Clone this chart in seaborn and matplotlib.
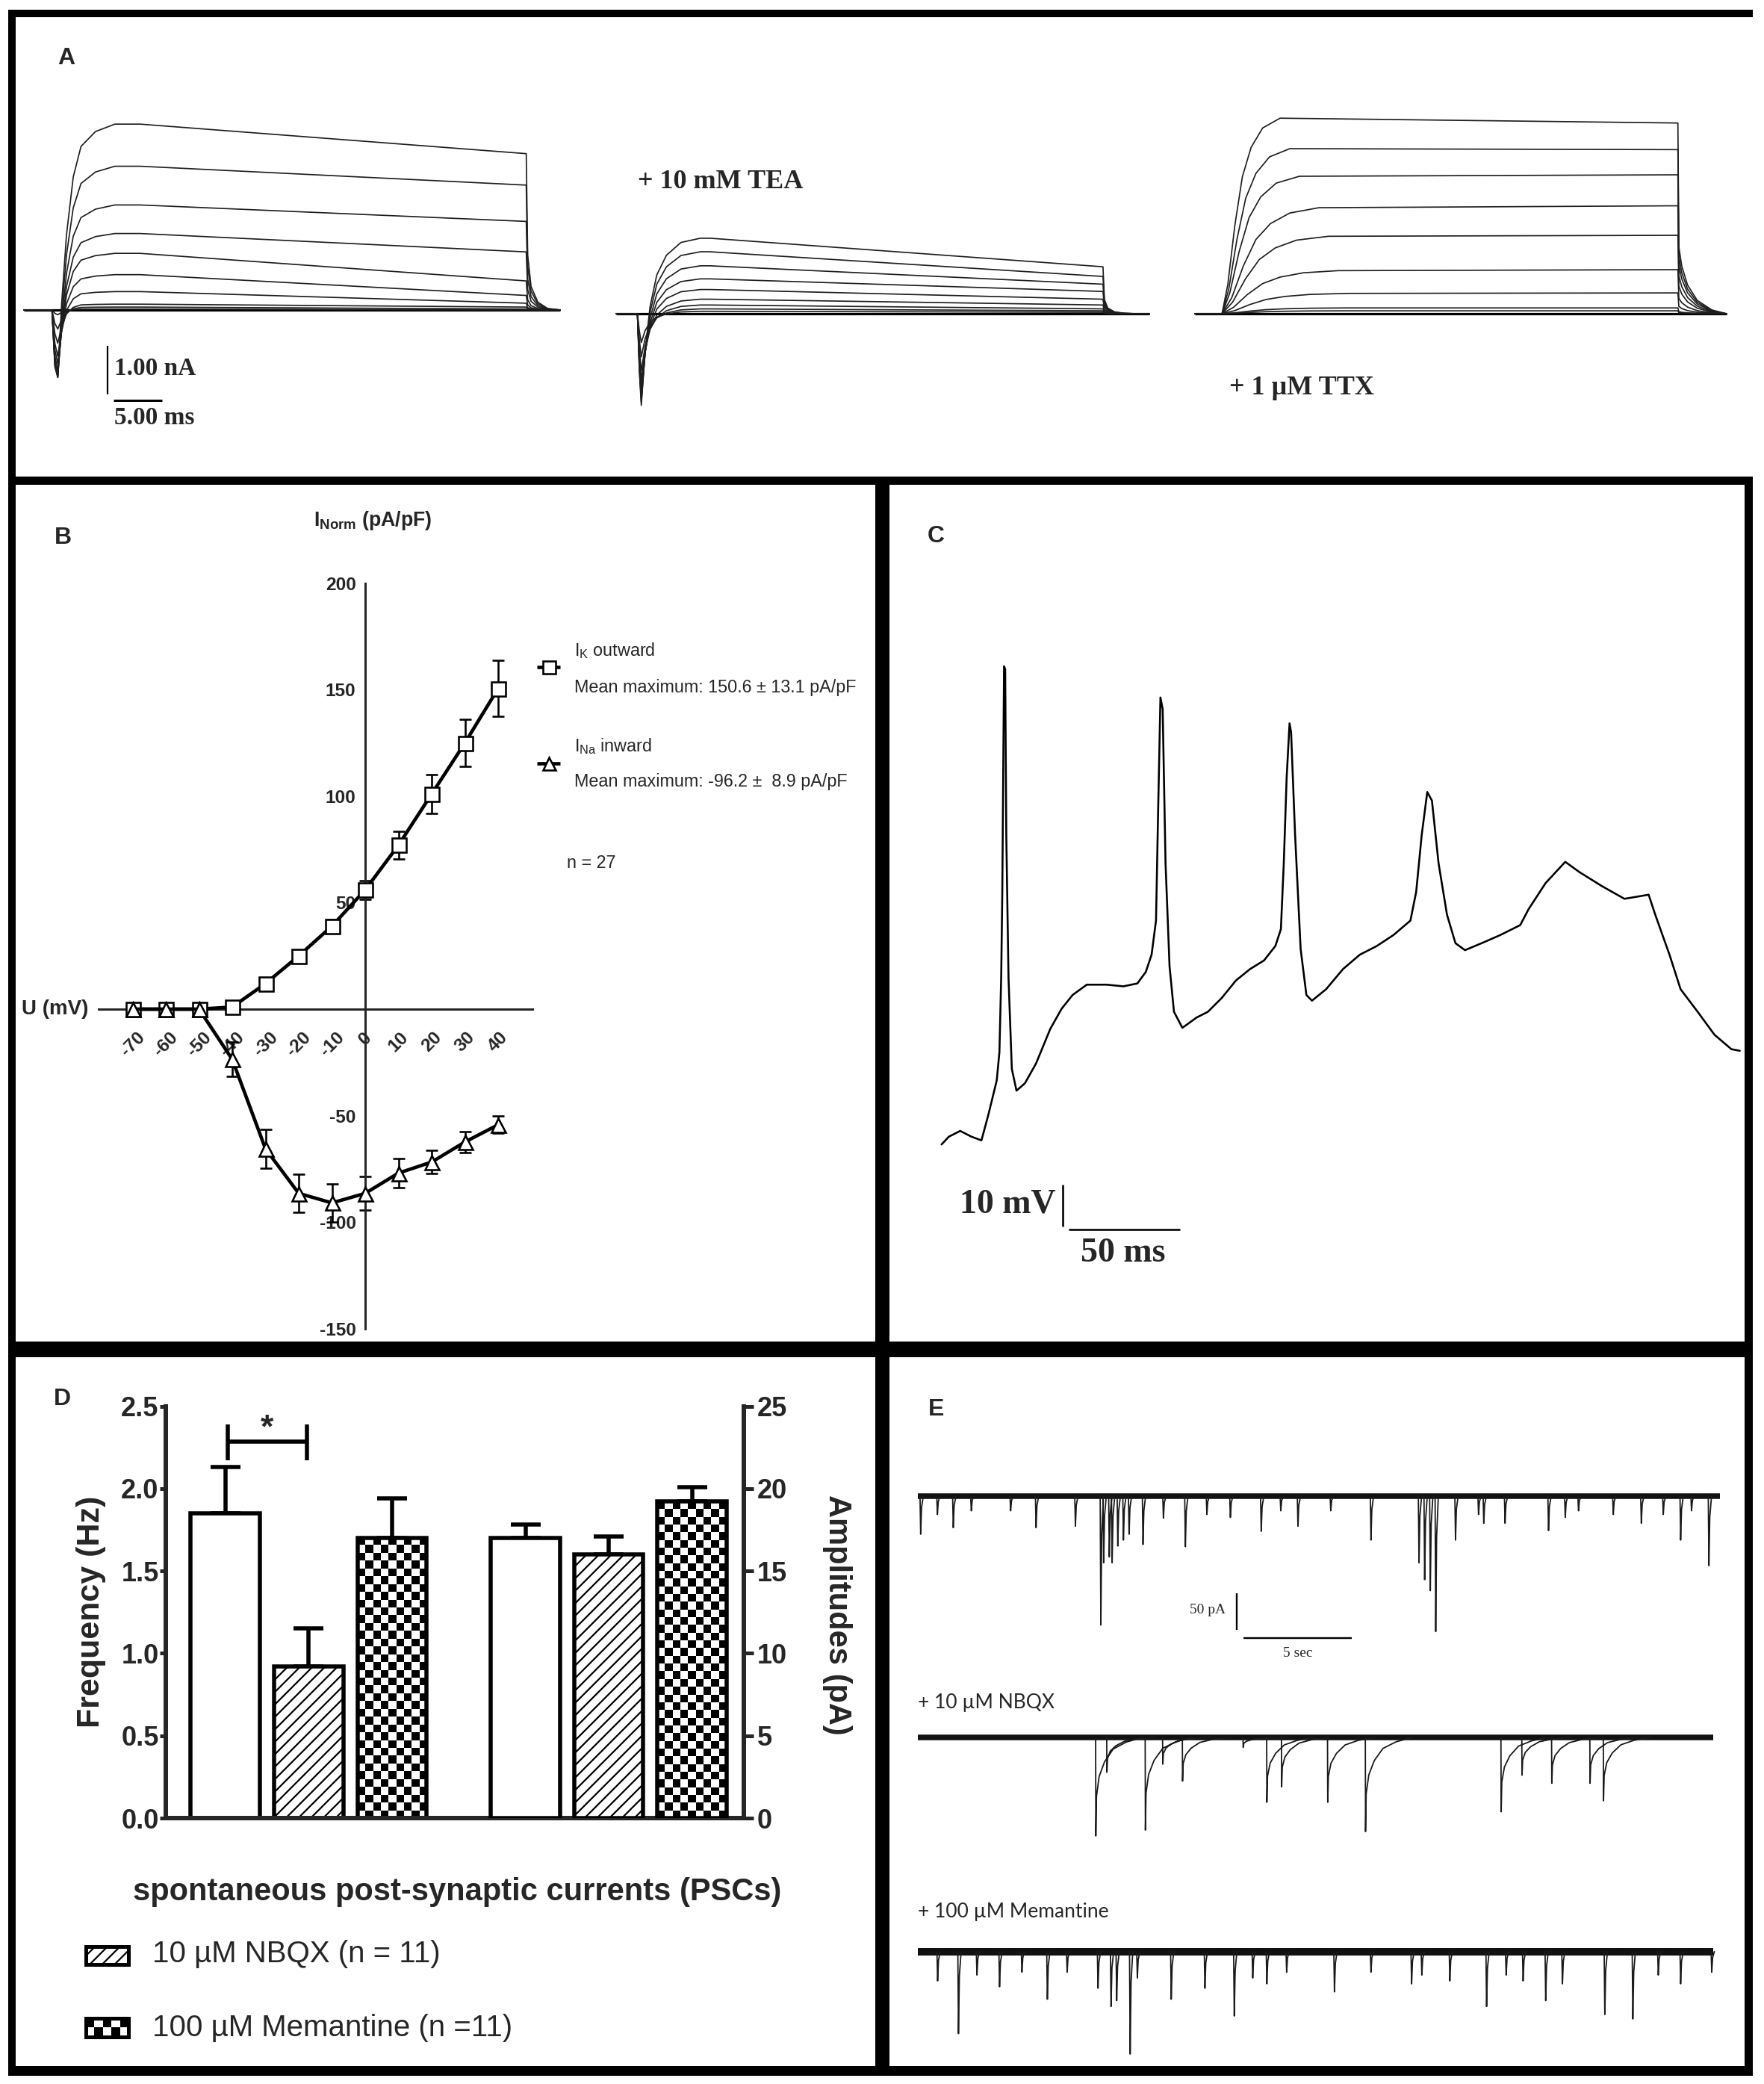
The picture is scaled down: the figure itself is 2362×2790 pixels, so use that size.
import numpy as np
import pandas as pd
import matplotlib
matplotlib.use("Agg")
import matplotlib.pyplot as plt
import seaborn as sns
from matplotlib import font_manager as fm
from matplotlib.patches import Rectangle

# ============================ DATA ============================
# ---- Panel A : voltage-clamp current families (nA); times in ms
A_ctrl_timing = [2.9, 12.0, 51.9, 55.4]          # onset, peak, pulse end, sweep end
A_ctrl_peak = [3.84, 2.97, 2.17, 1.58, 1.17, 0.73, 0.38, 0.12, 0.06, 0.02]
A_ctrl_end = [3.23, 2.58, 1.83, 1.20, 0.60, 0.30, 0.14, 0.06, 0.02, 0.00]
A_ctrl_dip = [-1.85, -1.75, -1.65, -1.55, -1.40, -1.20, -1.00, -0.70, -0.40, -0.10]
A_ctrl_s = [0, 0.3, 0.6, 1.0, 1.5, 2.2, 3.0, 4.5, 6.5]
A_ctrl_kf = [0, 0.03, 0.12, 0.30, 0.50, 0.74, 0.88, 0.96, 1.0]
A_ctrl_nf = [0, 0.70, 1.0, 0.55, 0.20, 0.05, 0, 0, 0]
A_ctrl_tail_s = [0, 0.15, 0.5, 1.2, 2.2, 3.5]
A_ctrl_tail_f = [1, 0.35, 0.15, 0.05, 0.01, 0]

A_tea_timing = [2.2, 9.7, 50.3, 55.1]
A_tea_peak = [1.56, 1.28, 0.99, 0.72, 0.50, 0.30, 0.18, 0.10, 0.05]
A_tea_end = [0.97, 0.77, 0.61, 0.46, 0.30, 0.18, 0.10, 0.06, 0.03]
A_tea_dip = [-2.05, -1.95, -1.85, -1.70, -1.55, -1.40, -1.20, -0.90, -0.60]
A_tea_s = [0, 0.2, 0.4, 0.8, 1.3, 2.0, 3.0, 4.5, 6.5]
A_tea_kf = [0, 0.03, 0.10, 0.30, 0.55, 0.75, 0.88, 0.97, 1.0]
A_tea_nf = [0, 0.60, 1.0, 0.60, 0.35, 0.18, 0.08, 0.02, 0]
A_tea_tail_s = [0, 0.15, 0.5, 1.2, 2.2, 3.5]
A_tea_tail_f = [1, 0.30, 0.12, 0.04, 0.01, 0]

A_ttx_timing = [2.8, 0.0, 49.9, 54.9]
A_ttx_peak = [4.04, 3.41, 2.84, 2.19, 1.60, 0.89, 0.42, 0.12, 0.06]
A_ttx_end = [3.94, 3.39, 2.87, 2.23, 1.62, 0.91, 0.43, 0.12, 0.06]
A_ttx_rise = [6, 7, 8, 10, 11, 12, 13, 13, 13]
A_ttx_u = [0, 0.10, 0.22, 0.35, 0.50, 0.70, 1.0]
A_ttx_kf = [0, 0.15, 0.45, 0.70, 0.85, 0.95, 1.0]
A_ttx_nf = [0, 0, 0, 0, 0, 0, 0]
A_ttx_tail_s = [0, 0.1, 0.4, 1.0, 2.0, 3.5, 5.0]
A_ttx_tail_f = [1, 0.35, 0.25, 0.15, 0.07, 0.02, 0]

# ---- Panel B : I-V relation
B_voltage = [-70, -60, -50, -40, -30, -20, -10, 0, 10, 20, 30, 40]
B_IK = [0, 0, 0, 1, 12, 25, 39, 56, 77, 101, 125, 150.6]
B_IK_sem = [0, 0, 0, 1, 2, 2.5, 3, 4.4, 6.5, 9, 11, 13.1]
B_INa = [0, 0, 0, -23.6, -65.6, -86.5, -91, -86.5, -77, -71.8, -62.4, -54.3]
B_INa_sem = [0, 0, 0, 8, 9, 9, 9, 8, 7, 5.5, 5, 4]
B_yticks = [-150, -100, -50, 50, 100, 150, 200]

# ---- Panel C : action potential train
C_time_ms = [0, 3.3, 8.4, 13.5, 18.0, 21.1, 24.9, 26.1, 26.9, 27.4, 27.9, 28.2, 28.7,
             29.2, 30.2, 31.7, 33.8, 37.6, 42.6, 49.0, 54.1, 59.1, 65.5, 74.4, 82.0,
             88.3, 92.1, 94.7, 96.7, 97.7, 98.7, 99.7, 101.0, 102.8, 104.8, 108.6,
             115.0, 120.1, 126.4, 132.7, 139.1, 145.4, 150.5, 153.0, 154.3, 155.6,
             156.9, 157.6, 159.4, 161.9, 164.5, 167.0, 173.4, 181.0, 188.6, 196.2,
             203.8, 211.4, 214.0, 216.5, 219.0, 221.1, 224.1, 227.9, 231.7, 236.0,
             244.4, 252.0, 260.9, 264.7, 272.3, 281.2, 287.6, 297.7, 307.9, 318.8,
             321.8, 328.2, 333.2, 340.9, 348.5, 356.1, 359.9]
C_voltage_mV = [-65, -63.1, -61.7, -63.1, -64.0, -57.8, -49.4, -42.5, -24.4, -3.5, 31.2,
                51.4, 50.7, 10.4, -24.4, -46.6, -51.9, -50.1, -45.3, -36.9, -32.0,
                -28.6, -26.1, -26.1, -26.5, -25.8, -23.0, -18.8, -10.5, 17.3, 43.8,
                41.0, 3.4, -21.6, -32.7, -36.6, -34.1, -32.7, -29.3, -25.1, -22.3,
                -20.2, -16.7, -12.6, 3.4, 24.3, 37.5, 35.4, 10.4, -17.4, -28.6, -30.0,
                -27.2, -22.3, -18.8, -16.7, -14.0, -10.5, -3.5, 10.4, 20.8, 18.7, 3.4,
                -9.1, -16.0, -17.7, -15.8, -14.0, -11.6, -7.7, -1.4, 3.8, 1.3, -2.1,
                -5.2, -4.2, -9.1, -18.8, -27.2, -32.7, -38.3, -41.8, -42.2]

# ---- Panel D : PSC frequency / amplitude
D_conditions = ["Control", "10 µM NBQX", "100 µM Memantine"]
D_freq = [1.85, 0.92, 1.70]
D_freq_sem = [0.28, 0.23, 0.24]
D_amp = [17.0, 16.0, 19.2]
D_amp_sem = [0.8, 1.1, 0.9]
D_freq_ticks = [0.0, 0.5, 1.0, 1.5, 2.0, 2.5]
D_amp_ticks = [0, 5, 10, 15, 20, 25]

# ---- Panel E : spontaneous PSC recordings (events: time s, amplitude pA)
E_sweep_s = [36.9, 36.6, 36.6]
E_ctrl_t = [0.13, 0.9, 1.63, 2.46, 4.27, 5.44, 7.25, 8.42, 8.55, 8.81, 8.94, 9.20, 9.46,
            9.72, 10.36, 11.3, 12.31, 13.3, 14.38, 15.80, 16.7, 17.49, 19.0, 20.85,
            23.06, 23.32, 23.58, 23.83, 24.74, 25.8, 26.04, 27.02, 29.02, 29.79, 30.4,
            32.0, 33.29, 34.3, 35.10, 35.6, 36.40]
E_ctrl_amp = [52, 25, 43, 20, 20, 43, 41, 176, 91, 83, 91, 68, 60, 52, 66, 30, 69, 25,
              29, 48, 20, 41, 20, 60, 91, 114, 129, 185, 60, 25, 37, 37, 47, 29, 20, 25,
              37, 25, 60, 20, 95]
E_nbqx_t = [8.19, 8.70, 10.47, 11.27, 12.18, 14.97, 16.06, 16.74, 18.86, 20.60, 26.84,
            27.80, 29.17, 30.93, 31.55]
E_nbqx_amp = [135, 48, 127, 37, 60, 14, 89, 68, 89, 129, 102, 52, 63, 63, 87]
E_mem_t = [0.91, 1.87, 2.72, 3.76, 4.79, 5.96, 6.87, 8.29, 8.89, 9.15, 9.77, 10.10, 11.66,
           13.21, 14.56, 15.41, 16.06, 16.97, 19.17, 20.85, 22.72, 23.19, 24.48, 26.17,
           27.07, 27.85, 28.89, 29.66, 31.61, 32.90, 34.07, 35.10, 36.53]
E_mem_amp = [40, 112, 32, 48, 28, 65, 28, 50, 75, 67, 140, 36, 65, 50, 88, 36, 44, 28,
             55, 28, 44, 32, 40, 75, 32, 40, 67, 44, 86, 92, 32, 44, 28]
E_fast_s = [-0.03, 0, 0.04, 0.12]
E_fast_f = [0, 1, 0.3, 0]
E_slow_s = [-0.01, 0, 0.03, 0.15, 0.4, 0.8, 1.4, 2.2]
E_slow_f = [0, 1, 0.6, 0.4, 0.25, 0.12, 0.05, 0]

# ============================ SETUP ============================
W, H, DPI = 2362, 2790, 100


def pt(px):
    return px * 72.0 / DPI


avail = {f.name for f in fm.fontManager.ttflist}


def pick(*names):
    for n in names:
        if n in avail:
            return n
    return "DejaVu Sans"


SANS = pick("Liberation Sans", "Arimo", "DejaVu Sans")
NARROW = pick("Liberation Sans Narrow", "Arial Narrow", SANS)
KN = 1.0 if "Narrow" in NARROW else 0.8
SERIF = pick("Liberation Serif", "DejaVu Serif")
HUMAN = pick("Lato", "Open Sans", SANS)

sns.set_style("white")
plt.rcParams["font.family"] = [SANS, "DejaVu Sans"]
plt.rcParams["hatch.linewidth"] = pt(2.2)
plt.rcParams["hatch.color"] = "black"

fig = plt.figure(figsize=(W / DPI, H / DPI), dpi=DPI)
fig.patch.set_facecolor("white")


def frame(x0, y0, x1, y1, ox, oy, sx, sy):
    rect = [x0 / W, 1 - y1 / H, (x1 - x0) / W, (y1 - y0) / H]
    xl = ((x0 - ox) / sx, (x1 - ox) / sx)
    yl = ((oy - y1) / sy, (oy - y0) / sy)
    return rect, xl, yl


def new_ax(rect):
    ax = fig.add_axes(rect)
    ax.patch.set_visible(False)
    return ax


# ============================ PANEL A ============================
def family(timing, peaks, ends, dips, s, kf, nf, tail_s, tail_f, rises=None):
    onset, t_pk, t_end, t_sw = timing
    out = []
    for i, (pk, en) in enumerate(zip(peaks, ends)):
        dp = dips[i] if dips is not None else 0.0
        ss = [u * rises[i] for u in s] if rises is not None else s
        t = [0.0] + [onset + x for x in ss]
        y = [0.0] + [k * pk + n * dp for k, n in zip(kf, nf)]
        tp = onset + rises[i] if rises is not None else t_pk
        if tp > t[-1]:
            t.append(tp)
            y.append(pk)
        t.append(t_end)
        y.append(en)
        for a, b in zip(tail_s[1:], tail_f[1:]):
            t.append(t_end + a)
            y.append(en * b)
        if t_sw > t[-1]:
            t.append(t_sw)
            y.append(0.0)
        out.append((t, y))
    return out


groups = [
    (frame(20, 100, 800, 630, 32, 415, 12.96, 64.8),
     family(A_ctrl_timing, A_ctrl_peak, A_ctrl_end, A_ctrl_dip, A_ctrl_s, A_ctrl_kf,
            A_ctrl_nf, A_ctrl_tail_s, A_ctrl_tail_f), A_ctrl_timing[3]),
    (frame(810, 100, 1600, 630, 825, 420, 12.96, 64.8),
     family(A_tea_timing, A_tea_peak, A_tea_end, A_tea_dip, A_tea_s, A_tea_kf,
            A_tea_nf, A_tea_tail_s, A_tea_tail_f), A_tea_timing[3]),
    (frame(1590, 100, 2340, 630, 1600, 420, 12.96, 64.8),
     family(A_ttx_timing, A_ttx_peak, A_ttx_end, None, A_ttx_u, A_ttx_kf,
            A_ttx_nf, A_ttx_tail_s, A_ttx_tail_f, rises=A_ttx_rise), A_ttx_timing[3]),
]
for (rect, xl, yl), traces, sweep in groups:
    ax = new_ax(rect)
    ax.plot([0, sweep], [0, 0], color="black", lw=pt(3.2), solid_capstyle="butt")
    for t, y in traces:
        ax.plot(t, y, color="#1e1e1e", lw=pt(1.7))
    ax.set_xlim(xl)
    ax.set_ylim(yl)
    ax.axis("off")

# ============================ PANEL B ============================
rectB, xlB, ylB = frame(131.6, 779, 713, 1781, 489, 1351, 4.45, 2.851)
axB = new_ax(rectB)
eb_kw = dict(fmt="none", ecolor="black", elinewidth=pt(2.6), capsize=6, capthick=pt(2.6), zorder=2)
axB.errorbar(B_voltage, B_IK, yerr=B_IK_sem, **eb_kw)
axB.errorbar(B_voltage, B_INa, yerr=B_INa_sem, **eb_kw)
ln_kw = dict(color="black", linewidth=pt(4.6), markersize=pt(19), markerfacecolor="white",
             markeredgecolor="black", markeredgewidth=pt(2.6), zorder=3, legend=False)
sns.lineplot(x=B_voltage, y=B_IK, marker="s", ax=axB, **ln_kw)
sns.lineplot(x=B_voltage, y=B_INa, marker="^", ax=axB, **ln_kw)
axB.spines["left"].set_position(("data", 0))
axB.spines["bottom"].set_position(("data", 0))
axB.spines["left"].set_bounds(-150, 200)
axB.spines["top"].set_visible(False)
axB.spines["right"].set_visible(False)
for s in ("left", "bottom"):
    axB.spines[s].set_linewidth(pt(3))
axB.set_xticks(B_voltage)
axB.set_xticklabels([str(v) for v in B_voltage], rotation=45)
axB.set_yticks(B_yticks)
axB.set_yticklabels([str(v) for v in B_yticks])
axB.tick_params(axis="x", length=0, pad=19)
axB.tick_params(axis="y", direction="out", length=pt(11), width=pt(3), pad=1)
for lab in axB.get_xticklabels() + axB.get_yticklabels():
    lab.set_fontfamily(NARROW)
    lab.set_fontweight("bold")
    lab.set_fontsize(22 * KN)
axB.set_xlabel("")
axB.set_ylabel("")
axB.set_xlim(xlB)
axB.set_ylim(ylB)

# ============================ PANEL C ============================
rectC, xlC, ylC = frame(1195, 650, 2345, 1790, 1260.7, 1174.7, 2.97, 5.5)
axC = new_ax(rectC)
sns.lineplot(x=C_time_ms, y=C_voltage_mV, sort=False, estimator=None, color="black",
             linewidth=pt(2.6), ax=axC)
axC.set_xlim(xlC)
axC.set_ylim(ylC)
axC.axis("off")

# ============================ PANEL D ============================
D_positions = [0, 1, 2, 3.6, 4.6, 5.6]
PXX, PXY = 111.5, 220.6
axD = new_ax([222 / W, 1 - 2434 / H, (996 - 222) / W, (2434 - 1882.5) / H])
df_freq = pd.DataFrame({"pos": D_positions[:3], "value": D_freq, "cond": D_conditions})
df_amp = pd.DataFrame({"pos": D_positions[3:], "value": D_amp, "cond": D_conditions})
bar_kw = dict(native_scale=True, width=0.83, color="white", saturation=1, edgecolor="black",
              linewidth=pt(5.5), errorbar=None)
sns.barplot(data=df_freq, x="pos", y="value", ax=axD, **bar_kw)
axD2 = axD.twinx()
axD2.patch.set_visible(False)
sns.barplot(data=df_amp, x="pos", y="value", ax=axD2, **bar_kw)


def checker(ax, patch, sx, sy, sq=10.3):
    x0, y0 = patch.get_x(), patch.get_y()
    w, h = patch.get_width(), patch.get_height()
    nx = max(1, int(round(w * sx / sq)))
    ny = max(1, int(round(h * sy / sq)))
    grid = np.indices((ny, nx)).sum(axis=0) % 2
    im = ax.imshow(grid, extent=(x0, x0 + w, y0, y0 + h), cmap="gray", vmin=0, vmax=1,
                   interpolation="nearest", aspect="auto", zorder=patch.get_zorder() - 0.05)
    im.set_clip_path(patch)
    patch.set_facecolor("none")


bf = list(axD.patches)
ba = list(axD2.patches)
bf[1].set_hatch("//")
ba[1].set_hatch("//")
checker(axD, bf[2], PXX, PXY)
checker(axD2, ba[2], PXX, PXY / 10.0)

ebD = dict(fmt="none", ecolor="black", elinewidth=pt(5.5), capsize=14.5, capthick=pt(5.5), zorder=0.9)
axD.errorbar(D_positions[:3], D_freq, yerr=[np.zeros(3), D_freq_sem], **ebD)
axD2.errorbar(D_positions[3:], D_amp, yerr=[np.zeros(3), D_amp_sem], **ebD)

# significance bracket
axD.plot([0.03, 0.98], [2.283, 2.283], color="black", lw=pt(5.5), solid_capstyle="butt")
axD.plot([0.03, 0.03], [2.17, 2.39], color="black", lw=pt(5.5), solid_capstyle="butt")
axD.plot([0.98, 0.98], [2.17, 2.39], color="black", lw=pt(5.5), solid_capstyle="butt")
axD.text(0.5, 2.36, "*", ha="center", va="center", fontsize=32, fontweight="bold")

for a in (axD, axD2):
    a.spines["top"].set_visible(False)
axD.spines["right"].set_visible(False)
for s in ("left", "top", "bottom"):
    axD2.spines[s].set_visible(False)
axD.spines["left"].set_linewidth(pt(6))
axD.spines["bottom"].set_linewidth(pt(6))
axD2.spines["right"].set_linewidth(pt(6))

axD.set_xticks(D_positions)
axD.set_xticklabels([])
axD.tick_params(axis="x", direction="out", length=pt(16), width=pt(5))
axD.set_yticks(D_freq_ticks)
axD.set_yticklabels([f"{v:.1f}" for v in D_freq_ticks])
axD.tick_params(axis="y", direction="out", length=pt(8), width=pt(5), pad=1, labelsize=26)
axD2.set_yticks(D_amp_ticks)
axD2.set_yticklabels([str(v) for v in D_amp_ticks])
axD2.tick_params(axis="y", direction="out", length=pt(12.5), width=pt(5), pad=4, labelsize=26)
for lab in axD.get_yticklabels() + axD2.get_yticklabels():
    lab.set_fontweight("bold")

axD.set_xlabel("spontaneous post-synaptic currents (PSCs)", fontsize=30, fontweight="bold")
axD.xaxis.set_label_coords(0.504, -0.1795)
axD.xaxis.label.set_va("center")
axD.set_ylabel("Frequency (Hz)", fontsize=31, fontweight="bold")
axD.yaxis.set_label_coords(-0.129, 0.5)
axD.yaxis.label.set_va("center")
axD2.set_ylabel("Amplitudes (pA)", fontsize=30, fontweight="bold", rotation=270)
axD2.yaxis.set_label_coords(1.162, 0.493)
axD2.yaxis.label.set_va("center")
axD2.yaxis.label.set_ha("center")

axD.set_xlim(-0.714, 6.22)
axD.set_ylim(0, 2.5)
axD2.set_ylim(0, 25)

# ============================ PANEL E ============================
rectE, xlE, ylE = frame(1195, 1900, 2335, 2775, 1229, 2003, 29.1, 0.98)
axE = new_ax(rectE)
E_offsets = [0.0, -329.2, -622.2]
E_band_px = [7.5, 7.5, 10]


def events(times, amps, off, shape_s, shape_f):
    xs, ys = [], []
    for t, a in zip(times, amps):
        xs += [t + s for s in shape_s] + [np.nan]
        ys += [off - a * f for f in shape_f] + [np.nan]
    return xs, ys


E_sets = [(E_ctrl_t, E_ctrl_amp, E_fast_s, E_fast_f),
          (E_nbqx_t, E_nbqx_amp, E_slow_s, E_slow_f),
          (E_mem_t, E_mem_amp, E_fast_s, E_fast_f)]
for i, (tt, aa, ss, ff) in enumerate(E_sets):
    off = E_offsets[i]
    axE.plot([0, E_sweep_s[i]], [off, off], color="#111111", lw=pt(E_band_px[i]),
             solid_capstyle="butt")
    xs, ys = events(tt, aa, off, ss, ff)
    axE.plot(xs, ys, color="#1a1a1a", lw=pt(1.8))
axE.set_xlim(xlE)
axE.set_ylim(ylE)
axE.axis("off")

# ============================ OVERLAY (text, scale bars, frames) ============================
ov = fig.add_axes([0, 0, 1, 1], zorder=50)
ov.patch.set_visible(False)
ov.set_xlim(0, W)
ov.set_ylim(H, 0)
ov.axis("off")


def T(x, y, s, **kw):
    kw.setdefault("va", "center")
    ov.text(x, y, s, **kw)


def L(xs, ys, px=2.5):
    ov.plot(xs, ys, color="black", lw=pt(px), solid_capstyle="butt")


# frames
for x0, y0, x1, y1 in [(11, 13, 2347, 23), (11, 13, 21, 2779), (11, 2766, 2347, 2779),
                       (11, 638, 2347, 649), (2336, 638, 2347, 2779),
                       (1172, 638, 1191, 2779), (11, 1796, 2347, 1817)]:
    ov.add_patch(Rectangle((x0, y0), x1 - x0, y1 - y0, color="black", lw=0))

# panel letters
for x, y, s in [(89, 78, "A"), (84, 720, "B"), (1253, 718, "C"), (83, 1873, "D"), (1254, 1887, "E")]:
    T(x, y, s, ha="center", fontsize=23, fontweight="bold", family=SANS)

# panel A annotations
T(854, 244, "+ 10 mM TEA", ha="left", fontsize=26, fontweight="bold", family=SERIF)
T(1646, 520, "+ 1 µM TTX", ha="left", fontsize=26, fontweight="bold", family=SERIF)
L([144, 144], [463, 528], 2.2)
L([152, 217], [536, 536], 3.0)
T(153, 494, "1.00 nA", ha="left", fontsize=24, fontweight="bold", family=SERIF)
T(153, 560, "5.00 ms", ha="left", fontsize=24, fontweight="bold", family=SERIF)

# panel B annotations
T(118.6, 1351, "U (mV)", ha="right", fontsize=25 * KN, fontweight="bold", family=NARROW)
T(499, 697, r"$\mathregular{I_{Norm}}$ (pA/pF)", ha="center", fontsize=24 * KN,
  fontweight="bold", family=NARROW)
for yy, mk in [(893, "s"), (1022, "^")]:
    L([719, 750], [yy, yy], 4.6)
    ov.plot([734.5], [yy], marker=mk, ms=pt(17), mfc="white", mec="black", mew=pt(2.6))
T(769, 871, r"$\mathregular{I_K}$ outward", ha="left", fontsize=21 * KN, family=NARROW)
T(769, 920, "Mean maximum: 150.6 ± 13.1 pA/pF", ha="left", fontsize=21 * KN, family=NARROW)
T(769, 999, r"$\mathregular{I_{Na}}$ inward", ha="left", fontsize=21 * KN, family=NARROW)
T(769, 1046, "Mean maximum: -96.2 ±  8.9 pA/pF", ha="left", fontsize=21 * KN, family=NARROW)
T(759, 1155, "n = 27", ha="left", fontsize=21 * KN, family=NARROW)

# panel C scale bars
L([1422.7, 1422.7], [1585.8, 1641.7], 2.6)
L([1431, 1579.5], [1645.5, 1645.5], 2.6)
T(1413.7, 1612.6, "10 mV", ha="right", fontsize=33, fontweight="bold", family=SERIF)
T(1504, 1677.6, "50 ms", ha="center", fontsize=33, fontweight="bold", family=SERIF)

# panel D legend
ov.add_patch(Rectangle((115, 2606), 57, 24, facecolor="white", edgecolor="black",
                       lw=pt(5), hatch="//", zorder=3))
chk = np.indices((2, 5)).sum(axis=0) % 2
ov.imshow(chk, extent=(115, 172, 2727, 2702), cmap="gray", vmin=0, vmax=1,
          interpolation="nearest", aspect="auto", zorder=2)
ov.add_patch(Rectangle((115, 2702), 57, 25, facecolor="none", edgecolor="black",
                       lw=pt(5), zorder=3))
T(204, 2616, "10 µM NBQX (n = 11)", ha="left", fontsize=29, family=SANS)
T(204, 2715, "100 µM Memantine (n =11)", ha="left", fontsize=29, family=SANS)

# panel E annotations
T(1229, 2279, "+ 10 µM NBQX", ha="left", fontsize=19, family=HUMAN)
T(1229, 2559, "+ 100 µM Memantine", ha="left", fontsize=19, family=HUMAN)
L([1655.6, 1655.6], [2133, 2182], 2.4)
L([1664.7, 1810], [2193, 2193], 2.4)
T(1641, 2156, "50 pA", ha="right", fontsize=14, family=SERIF)
T(1738, 2213, "5 sec", ha="center", fontsize=14, family=SERIF)

ov.set_xlim(0, W)
ov.set_ylim(H, 0)

fig.savefig("out.png", dpi=DPI, facecolor="white")
